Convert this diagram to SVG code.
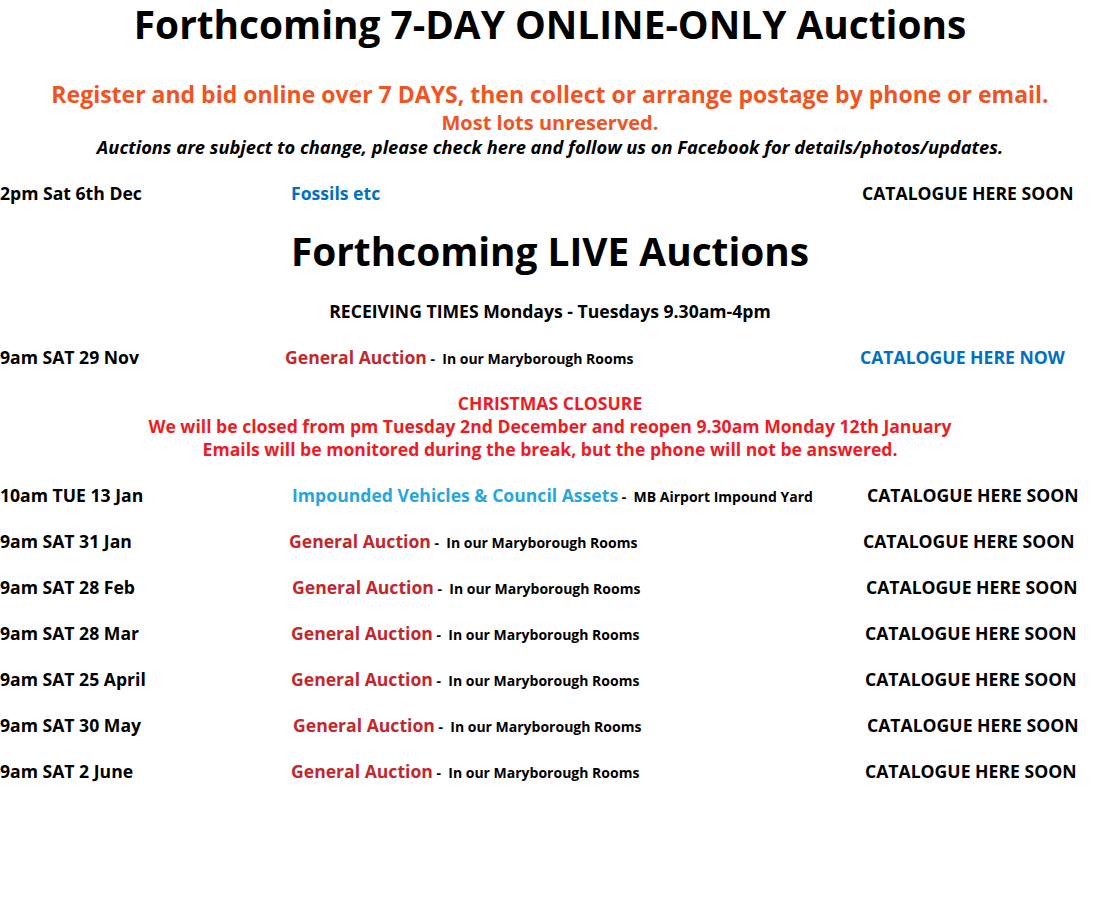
<svg xmlns="http://www.w3.org/2000/svg" width="1101" height="906" viewBox="0 0 1101 906">
<style>
text{font-family:"Open Sans","Liberation Sans",sans-serif;font-weight:bold;font-size:17.6px;fill:#000}
.t{font-size:38.8px}
.c{text-anchor:middle}
.o{fill:#f05423}
.r{fill:#ed1c24}
.g{fill:#c1272d}
.b{fill:#0070c0}
.lb{fill:#27a6de}
.s{font-size:14px}
</style>
<rect width="1101" height="906" fill="#fff"/>
<text class="t c" x="550" y="39">Forthcoming 7-DAY ONLINE-ONLY Auctions</text>
<text class="c o" x="550" y="103" style="font-size:23px">Register and bid online over 7 DAYS, then collect or arrange postage by phone or email.</text>
<text class="c o" x="550" y="130" style="font-size:20px">Most lots unreserved.</text>
<text class="c" x="550" y="154" style="font-style:italic;font-size:18.3px">Auctions are subject to change, please check here and follow us on Facebook for details/photos/updates.</text>
<g id="online1">
<text x="0" y="200">2pm Sat 6th Dec</text>
<text class="b" x="291" y="200">Fossils etc</text>
<text x="862" y="200">CATALOGUE HERE SOON</text>
</g>
<text class="t c" x="550" y="266">Forthcoming LIVE Auctions</text>
<text class="c" x="550" y="318">RECEIVING TIMES Mondays - Tuesdays 9.30am-4pm</text>
<g id="live1">
<text x="0" y="364">9am SAT 29 Nov</text>
<text x="285" y="364" xml:space="preserve"><tspan class="g">General Auction</tspan><tspan class="s"> -  In our Maryborough Rooms</tspan></text>
<text class="b" x="860" y="364">CATALOGUE HERE NOW</text>
</g>
<g id="closure">
<text class="c r" x="550" y="410">CHRISTMAS CLOSURE</text>
<text class="c r" x="550" y="433">We will be closed from pm Tuesday 2nd December and reopen 9.30am Monday 12th January</text>
<text class="c r" x="550" y="456">Emails will be monitored during the break, but the phone will not be answered.</text>
</g>
<g id="live2">
<text x="0" y="502">10am TUE 13 Jan</text>
<text x="292" y="502" xml:space="preserve"><tspan class="lb">Impounded Vehicles &amp; Council Assets</tspan><tspan class="s"> -  MB Airport Impound Yard</tspan></text>
<text x="867" y="502">CATALOGUE HERE SOON</text>
</g>
<g id="live3">
<text x="0" y="548">9am SAT 31 Jan</text>
<text x="289" y="548" xml:space="preserve"><tspan class="g">General Auction</tspan><tspan class="s"> -  In our Maryborough Rooms</tspan></text>
<text x="863" y="548">CATALOGUE HERE SOON</text>
</g>
<g id="live4">
<text x="0" y="594">9am SAT 28 Feb</text>
<text x="292" y="594" xml:space="preserve"><tspan class="g">General Auction</tspan><tspan class="s"> -  In our Maryborough Rooms</tspan></text>
<text x="866" y="594">CATALOGUE HERE SOON</text>
</g>
<g id="live5">
<text x="0" y="640">9am SAT 28 Mar</text>
<text x="291" y="640" xml:space="preserve"><tspan class="g">General Auction</tspan><tspan class="s"> -  In our Maryborough Rooms</tspan></text>
<text x="865" y="640">CATALOGUE HERE SOON</text>
</g>
<g id="live6">
<text x="0" y="686">9am SAT 25 April</text>
<text x="291" y="686" xml:space="preserve"><tspan class="g">General Auction</tspan><tspan class="s"> -  In our Maryborough Rooms</tspan></text>
<text x="865" y="686">CATALOGUE HERE SOON</text>
</g>
<g id="live7">
<text x="0" y="732">9am SAT 30 May</text>
<text x="293" y="732" xml:space="preserve"><tspan class="g">General Auction</tspan><tspan class="s"> -  In our Maryborough Rooms</tspan></text>
<text x="867" y="732">CATALOGUE HERE SOON</text>
</g>
<g id="live8">
<text x="0" y="778">9am SAT 2 June</text>
<text x="291" y="778" xml:space="preserve"><tspan class="g">General Auction</tspan><tspan class="s"> -  In our Maryborough Rooms</tspan></text>
<text x="865" y="778">CATALOGUE HERE SOON</text>
</g>
</svg>
